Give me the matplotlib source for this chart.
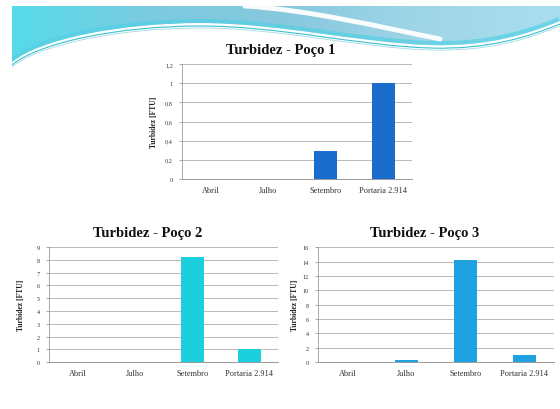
import numpy as np
import matplotlib
matplotlib.use("Agg")
import matplotlib.pyplot as plt
from matplotlib.colors import LinearSegmentedColormap
from matplotlib.patches import PathPatch
from matplotlib.path import Path
from matplotlib.ticker import FuncFormatter

categorias = ["Abril", "Julho", "Setembro", "Portaria 2.914"]
poco1 = [0, 0, 0.29, 1.0]
poco2 = [0, 0, 8.2, 1.0]
poco3 = [0, 0.3, 14.2, 1.0]

titulos = ["Turbidez - Poço 1", "Turbidez - Poço 2", "Turbidez - Poço 3"]
ylabel = "Turbidez [FTU]"

SERIF = ["Liberation Serif", "DejaVu Serif"]

fig = plt.figure(figsize=(5.6, 4.1), dpi=100)
fig.patch.set_facecolor("white")

# decorative header wave (slide background), in pixel-like coords
bg = fig.add_axes([0, 0, 1, 1], zorder=0)
bg.set_xlim(0, 560)
bg.set_ylim(410, 0)
bg.axis("off")

C4 = Path.CURVE4
edge = [(12, 63), (40, 40), (120, 24), (200, 24),
        (280, 24), (360, 44), (430, 46),
        (490, 48), (530, 34), (560, 22)]
wave = Path([(12, 7), (560, 7)] + edge[::-1][:1] + edge[::-1][1:] + [(12, 7)],
            [Path.MOVETO, Path.LINETO, Path.LINETO] + [C4] * 9 + [Path.CLOSEPOLY])
wave_patch = PathPatch(wave, facecolor="none", edgecolor="none", transform=bg.transData)
bg.add_patch(wave_patch)

cmap = LinearSegmentedColormap.from_list(
    "wave", ["#55dbe9", "#7ccbe0", "#88c8de", "#9fd6e8", "#a8def0"])
grad = np.linspace(0, 1, 256).reshape(1, -1)
img = bg.imshow(grad, cmap=cmap, extent=[12, 560, 70, 7], aspect="auto", zorder=1)
img.set_clip_path(wave_patch)

edge_codes = [Path.MOVETO] + [C4] * 9
# cyan band along the lower edge
band = PathPatch(Path(edge, edge_codes), facecolor="none", edgecolor="#55d0e4",
                 lw=6, alpha=0.7, zorder=2)
bg.add_patch(band)
band.set_clip_path(wave_patch)

# thin teal lines under the wave
for dy, col, lw in [(3, "#3cc0d0", 0.8), (5, "#a0dce6", 0.6)]:
    pts = [(x, y + dy) for x, y in edge]
    bg.add_patch(PathPatch(Path(pts, edge_codes), facecolor="none",
                           edgecolor=col, lw=lw, zorder=2))

# white swoosh
sw = Path([(245, 7), (310, 11), (380, 28), (440, 40)], [Path.MOVETO, C4, C4, C4])
bg.add_patch(PathPatch(sw, facecolor="none", edgecolor="white", lw=3.5,
                       alpha=0.95, zorder=3, capstyle="round"))


def grafico(rect, valores, cor, titulo, ymax, passo, fmt_virgula=False,
            label_x=None, title_x=0.5):
    ax = fig.add_axes(rect, zorder=3)
    ax.set_facecolor("none")
    x = np.arange(len(categorias))
    ax.bar(x, valores, width=0.4, color=cor, zorder=3)
    ax.set_xlim(-0.5, len(categorias) - 0.5)
    ax.set_ylim(0, ymax)
    ticks = np.arange(0, ymax + passo / 2, passo)
    ax.set_yticks(ticks)
    if fmt_virgula:
        ax.yaxis.set_major_formatter(FuncFormatter(
            lambda v, p: ("%g" % round(v, 1)).replace(".", ",")))
    else:
        ax.yaxis.set_major_formatter(FuncFormatter(lambda v, p: "%d" % v))
    ax.set_xticks(x)
    ax.set_xticklabels(categorias, fontsize=6, family=SERIF, color="#333333")
    for t in ax.get_yticklabels():
        t.set_fontsize(4.5)
        t.set_family(SERIF)
        t.set_color("#333333")
    ax.tick_params(axis="x", length=0, pad=5)
    ax.tick_params(axis="y", length=2.5, width=0.6, color="#999999", pad=4)
    ax.yaxis.grid(True, color="#b8b8b8", lw=0.7, zorder=0)
    for s in ["top", "right"]:
        ax.spines[s].set_visible(False)
    ax.spines["left"].set_color("#999999")
    ax.spines["left"].set_linewidth(0.6)
    ax.spines["bottom"].set_color("#999999")
    ax.spines["bottom"].set_linewidth(0.7)
    ax.set_ylabel(ylabel, fontsize=5.5, family=SERIF, fontweight="bold", color="#222222")
    if label_x is not None:
        ax.yaxis.set_label_coords(label_x, 0.5)
    ax.set_title(titulo, fontsize=10.5, family=SERIF, fontweight="bold",
                 color="#111111", pad=8, x=title_x)
    return ax


grafico([0.325, 0.561, 0.411, 0.280], poco1, "#1a6dcc", titulos[0], 1.2, 0.2,
        fmt_virgula=True, label_x=-0.105, title_x=0.43)
grafico([0.0875, 0.1146, 0.409, 0.280], poco2, "#1ccfdc", titulos[1], 9, 1,
        label_x=-0.105, title_x=0.432)
grafico([0.568, 0.1146, 0.421, 0.280], poco3, "#1ea2e2", titulos[2], 16, 2,
        label_x=-0.08, title_x=0.453)

fig.savefig("out.png", dpi=100)
